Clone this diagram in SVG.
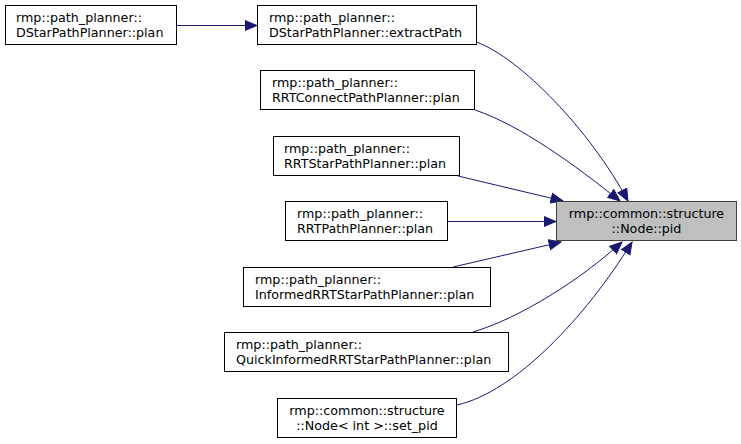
<svg xmlns="http://www.w3.org/2000/svg" width="741" height="444" viewBox="0 0 741 444">
<style>
.n rect{fill:#fff;stroke:#000;stroke-width:1}
.n.hl rect{fill:#bfbfbf;stroke:#404040}
text{font-family:"DejaVu Sans",sans-serif;font-size:12.7px;fill:#000}
.c{text-anchor:middle}
.e path{fill:none;stroke:#191970;stroke-width:1;marker-end:url(#ah)}
</style>
<defs>
<marker id="ah" markerUnits="userSpaceOnUse" markerWidth="14" markerHeight="12" viewBox="0 -6 13 12" refX="12" refY="0" orient="auto">
<path d="M0,-5 L12,0 L0,5 Z" fill="#191970" stroke="#191970" stroke-width="1"/>
</marker>
</defs>
<g id="edges" class="e">
<path d="M177,25.5 L257,25.5"/>
<path d="M476.5,42 C520,58 590,130 628,201"/>
<path d="M475,110 C520,125 575,165 620,201"/>
<path d="M458,176 L563,201"/>
<path d="M448,221.5 L556,221.5"/>
<path d="M453,267 L561,242"/>
<path d="M473,332 C520,318 580,280 622,242"/>
<path d="M457,405 C515,392 585,318 632,242"/>
</g>
<g id="node-dstar-plan" class="n"><rect x="5.5" y="5.5" width="171" height="39"/><text x="16" y="21.5">rmp::path_planner::</text><text x="16" y="36.5">DStarPathPlanner::plan</text></g>
<g id="node-extractpath" class="n"><rect x="257.5" y="5.5" width="219" height="39"/><text x="269" y="21.5">rmp::path_planner::</text><text x="269" y="36.5">DStarPathPlanner::extractPath</text></g>
<g id="node-rrtconnect" class="n"><rect x="260.5" y="70.5" width="214" height="39"/><text x="272" y="86.5">rmp::path_planner::</text><text x="272" y="101.5">RRTConnectPathPlanner::plan</text></g>
<g id="node-rrtstar" class="n"><rect x="273.5" y="136.5" width="186" height="39"/><text x="284" y="152.5">rmp::path_planner::</text><text x="284" y="167.5">RRTStarPathPlanner::plan</text></g>
<g id="node-rrt" class="n"><rect x="285.5" y="201.5" width="162" height="39"/><text x="297" y="217.5">rmp::path_planner::</text><text x="297" y="232.5">RRTPathPlanner::plan</text></g>
<g id="node-informed" class="n"><rect x="243.5" y="267.5" width="247" height="39"/><text x="255" y="283.5">rmp::path_planner::</text><text x="255" y="298.5">InformedRRTStarPathPlanner::plan</text></g>
<g id="node-quick" class="n"><rect x="224.5" y="332.5" width="284" height="39"/><text x="236" y="348.5">rmp::path_planner::</text><text x="236" y="363.5">QuickInformedRRTStarPathPlanner::plan</text></g>
<g id="node-setpid" class="n"><rect x="277.5" y="398.5" width="179" height="39"/><text class="c" x="367" y="414.5">rmp::common::structure</text><text class="c" x="367" y="429.5">::Node&lt; int &gt;::set_pid</text></g>
<g id="node-pid" class="n hl"><rect x="556.5" y="201.5" width="180" height="39"/><text class="c" x="646.5" y="217.5">rmp::common::structure</text><text class="c" x="646.5" y="232.5">::Node::pid</text></g>
</svg>
